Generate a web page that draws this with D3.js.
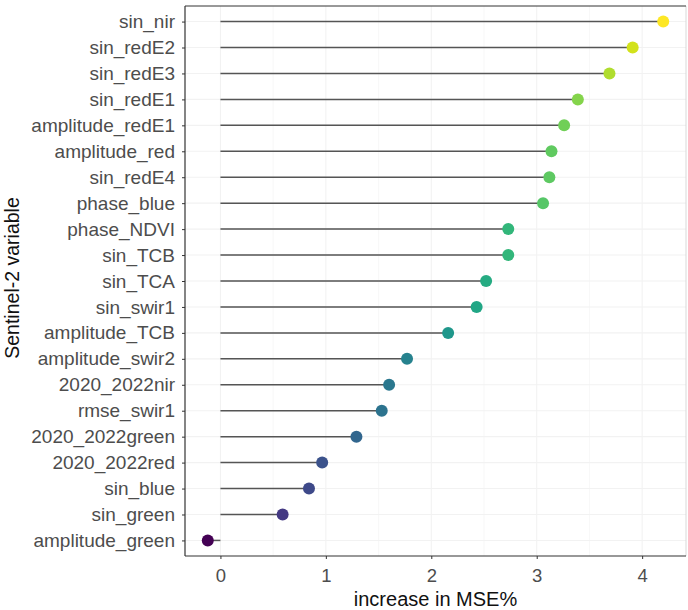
<!DOCTYPE html>
<html>
<head>
<meta charset="utf-8">
<script src="https://cdn.jsdelivr.net/npm/d3@7"></script>
<style>
body { margin: 0; background: #fff; }
text { font-family: "Liberation Sans", Arial, sans-serif; }
</style>
</head>
<body>
<script>
const variables = ['sin_nir', 'sin_redE2', 'sin_redE3', 'sin_redE1', 'amplitude_redE1',
    'amplitude_red', 'sin_redE4', 'phase_blue', 'phase_NDVI', 'sin_TCB', 'sin_TCA',
    'sin_swir1', 'amplitude_TCB', 'amplitude_swir2', '2020_2022nir', 'rmse_swir1',
    '2020_2022green', '2020_2022red', 'sin_blue', 'sin_green', 'amplitude_green'];
const mseIncrease = [4.20, 3.91, 3.69, 3.39, 3.26, 3.14, 3.12, 3.06, 2.73, 2.73, 2.52,
    2.43, 2.16, 1.77, 1.60, 1.53, 1.29, 0.965, 0.84, 0.59, -0.12];
const xTicks = [0, 1, 2, 3, 4];

const data = variables.map((v, i) => ({name: v, value: mseIncrease[i]}));

const width = 688;
const height = 610;
const panel = {left: 185, right: 686, top: 6, bottom: 556};

const svg = d3.select('body').append('svg')
    .attr('width', width)
    .attr('height', height);

const [vMin, vMax] = d3.extent(mseIncrease);
const pad = (vMax - vMin) * 0.05;
const xScale = d3.scaleLinear()
    .domain([vMin - pad, vMax + pad])
    .range([panel.left, panel.right]);

const yScale = d3.scalePoint()
    .domain(variables)
    .range([panel.top, panel.bottom])
    .padding(0.6);

const colour = d3.scaleSequential(d3.interpolateViridis)
    .domain([vMin, vMax]);

// faint grid
const grid = svg.append('g');
const minor = d3.range(-0.5, 4.6, 0.5).filter(d => d > vMin - pad && d < vMax + pad);
grid.selectAll('line.vx')
    .data(minor)
    .enter().append('line')
    .attr('x1', d => xScale(d)).attr('x2', d => xScale(d))
    .attr('y1', panel.top).attr('y2', panel.bottom)
    .attr('stroke', '#f2f2f2')
    .attr('stroke-width', d => Number.isInteger(d) ? 1.1 : 0.6);
grid.selectAll('line.hy')
    .data(variables)
    .enter().append('line')
    .attr('x1', panel.left).attr('x2', panel.right)
    .attr('y1', d => yScale(d)).attr('y2', d => yScale(d))
    .attr('stroke', '#f2f2f2')
    .attr('stroke-width', 1.1);

// panel border
svg.append('line')
    .attr('x1', panel.right).attr('x2', panel.right)
    .attr('y1', panel.top).attr('y2', panel.bottom)
    .attr('stroke', '#d9d9d9');
svg.append('line')
    .attr('x1', panel.left).attr('x2', panel.right)
    .attr('y1', panel.top).attr('y2', panel.top)
    .attr('stroke', '#333');

// stems
svg.append('g').selectAll('line')
    .data(data)
    .enter().append('line')
    .attr('x1', xScale(0))
    .attr('x2', d => xScale(d.value))
    .attr('y1', d => yScale(d.name))
    .attr('y2', d => yScale(d.name))
    .attr('stroke', '#555')
    .attr('stroke-width', 1.5);

// points
svg.append('g').selectAll('circle')
    .data(data)
    .enter().append('circle')
    .attr('cx', d => xScale(d.value))
    .attr('cy', d => yScale(d.name))
    .attr('r', 6)
    .attr('fill', d => colour(d.value));

// axes
const xAxis = d3.axisBottom(xScale).tickValues(xTicks).tickSize(3).tickPadding(10).tickFormat(d3.format('d'));
const xG = svg.append('g')
    .attr('transform', `translate(0, ${panel.bottom})`)
    .call(xAxis);
const yAxis = d3.axisLeft(yScale).tickSize(3).tickPadding(7);
const yG = svg.append('g')
    .attr('transform', `translate(${panel.left}, 0)`)
    .call(yAxis);

[xG, yG].forEach(g => {
    g.select('.domain').attr('stroke', '#333').attr('stroke-width', 1.2);
    g.selectAll('.tick line').attr('stroke', '#333');
    g.selectAll('.tick text').attr('fill', '#4d4d4d');
});
xG.selectAll('.tick text').style('font-size', '18.5px');
yG.selectAll('.tick text').style('font-size', '19px');
xG.select('.domain').attr('d', `M${panel.left},0H${panel.right}`);
yG.select('.domain').attr('d', `M0,${panel.top}V${panel.bottom}`);

// labels
svg.append('text')
    .text('increase in MSE%')
    .attr('x', (panel.left + panel.right) / 2)
    .attr('y', 606)
    .attr('text-anchor', 'middle')
    .style('font-size', '20px')
    .attr('fill', '#111');

svg.append('text')
    .text('Sentinel-2 variable')
    .attr('transform', `translate(19, 278) rotate(-90)`)
    .attr('text-anchor', 'middle')
    .style('font-size', '19.5px')
    .attr('fill', '#111');
</script>
</body>
</html>
